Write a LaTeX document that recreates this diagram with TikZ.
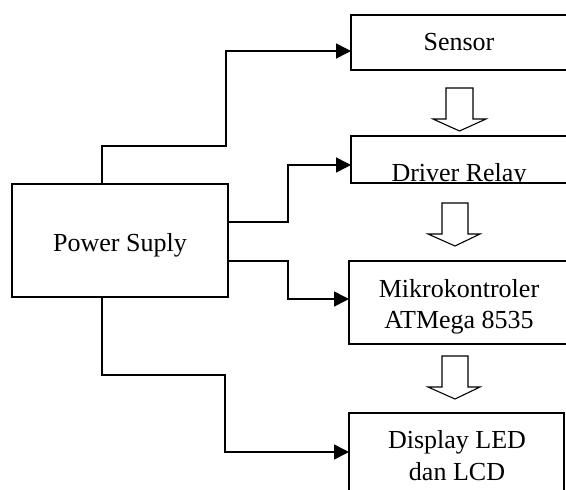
\documentclass[tikz,border=0pt]{standalone}
\usepackage{fontspec}
\setmainfont{Liberation Serif}
\usetikzlibrary{arrows.meta}
\begin{document}
\begin{tikzpicture}[x=1pt,y=-1pt,
  blk/.style={draw=black,line width=1.1pt,inner sep=0pt,outer sep=0pt,anchor=north west},
  lbl/.style={inner sep=0pt,anchor=base,font=\fontsize{26}{31}\selectfont},
  conn/.style={line width=1.6pt,-{Triangle[length=15pt,width=15pt]}},
  hollow/.style={draw=black,line width=1.1pt,fill=white,line join=miter}]
\useasboundingbox (0,0) rectangle (566,490);
% boxes
\node[blk,minimum width=216pt,minimum height=113pt] (ps) at (12,184) {};
\node[blk,minimum width=230pt,minimum height=55pt] (sensor) at (351,15) {};
\node[blk,minimum width=230pt,minimum height=47pt] (driver) at (351,136) {};
\node[blk,minimum width=230pt,minimum height=83pt] (mikro) at (349,261) {};
\node[blk,minimum width=215pt,minimum height=100pt] (display) at (349,413) {};
% texts
\node[lbl] (tps) at (120,251) {Power Suply};
\node[lbl] (tsensor) at (459,50) {Sensor};
\begin{scope}
\clip (driver.north west) rectangle (driver.south east);
\node[lbl] (tdriver) at (459,181) {Driver Relay};
\end{scope}
\node[lbl] (tmikro1) at (459,297) {Mikrokontroler};
\node[lbl] (tmikro2) at (459,328) {ATMega 8535};
\node[lbl] (tdisp1) at (457,448) {Display LED};
\node[lbl] (tdisp2) at (457,480) {dan LCD};
% connectors
\draw[conn] (ps.north -| 102,0) |- (226,146) |- (sensor.west |- 0,51);
\draw[conn] (ps.east |- 0,222) -| (288,165) -- (driver.west |- 0,165);
\draw[conn] (ps.east |- 0,261) -| (288,299) -- (mikro.west |- 0,299);
\draw[conn] (ps.south -| 102,0) |- (225,375) |- (display.west |- 0,452);
% hollow block arrows
\draw[hollow] (446,88) -- (473,88) -- (473,119) -- (486,119) -- (459.5,131) -- (433,119) -- (446,119) -- cycle;
\draw[hollow] (442,203) -- (468,203) -- (468,234) -- (480,234) -- (455,246) -- (428,234) -- (442,234) -- cycle;
\draw[hollow] (442,356) -- (468,356) -- (468,387) -- (480,387) -- (455,399) -- (428,387) -- (442,387) -- cycle;
\end{tikzpicture}
\end{document}
